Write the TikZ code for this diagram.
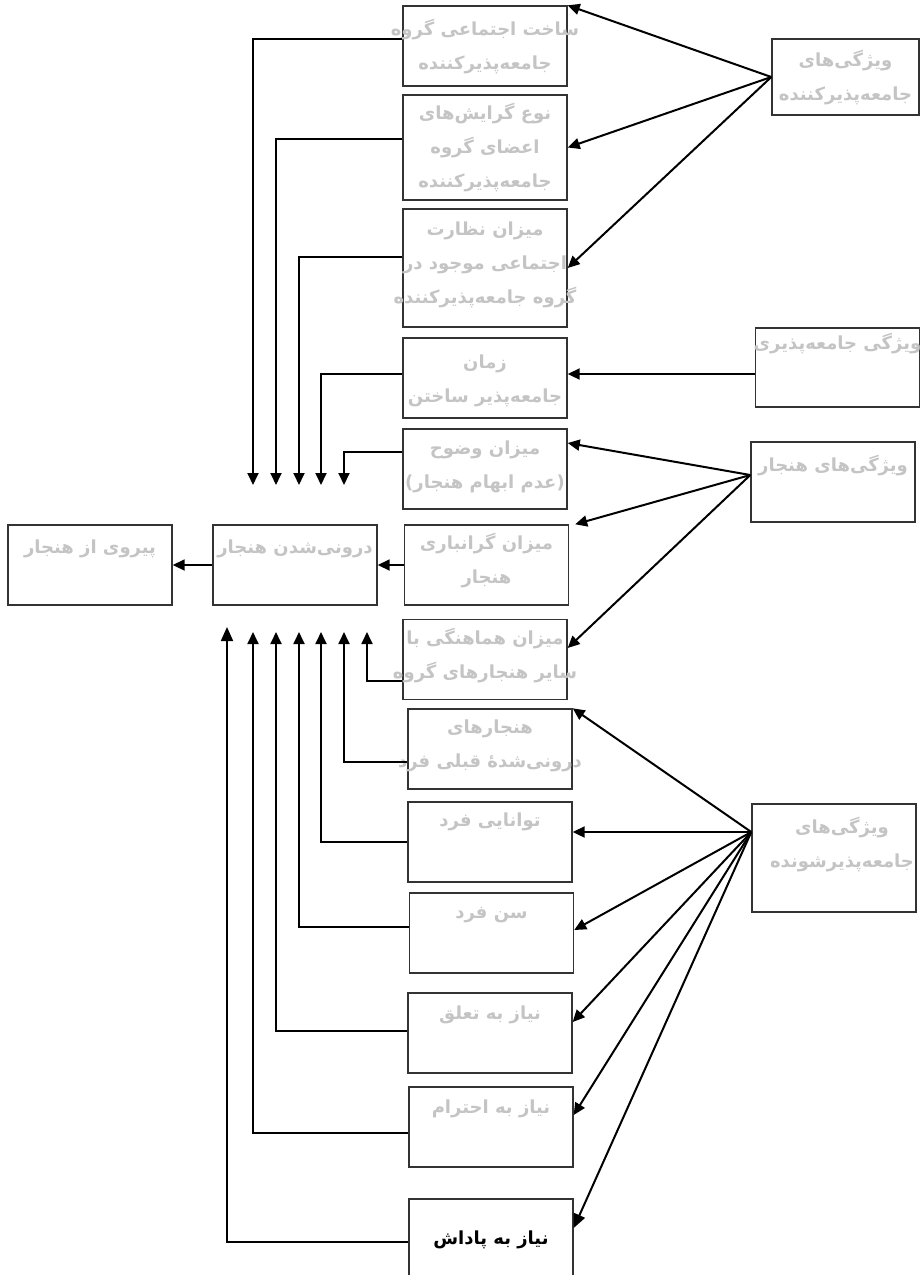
\documentclass[tikz,border=0pt]{standalone}
\usepackage{fontspec}
\newfontfamily\fa[Script=Arabic]{DejaVu Sans}
\TeXXeTstate=1
\usetikzlibrary{positioning, arrows.meta}
\definecolor{boxgray}{RGB}{51,51,51}
\definecolor{txtgray}{RGB}{196,196,196}
\newcommand{\fline}[1]{\beginR #1\endR}

\begin{document}
\begin{tikzpicture}[
    x=0.5pt, y=-0.5pt,
    box/.style={rectangle, draw=boxgray, line width=0.7pt, minimum width=82pt, minimum height=40pt, inner sep=0pt},
    lbl/.style={font=\fa\bfseries\fontsize{9}{17}\selectfont, text=txtgray, align=center, inner sep=0pt},
    link/.style={line width=0.9pt, -{Triangle[length=6pt, width=5.5pt]}},
    fan/.style={line width=1pt, -{Triangle[length=6pt, width=5.5pt]}}
]
    \fill[white] (0,0) rectangle (921,1275);
    \useasboundingbox (0,0) rectangle (921,1275);

    % Middle column
    \node[box] (b1) at (485,46) {};
    \node[box, minimum height=52.5pt] (b2) at (485,147.5) {};
    \node[box, minimum height=59pt] (b3) at (485,268) {};
    \node[box] (b4) at (485,378) {};
    \node[box] (b5) at (485,469) {};
    \node[box] (b6) at (486.5,565) {};
    \node[box] (b7) at (485,659.5) {};
    \node[box] (b8) at (490,749) {};
    \node[box] (b9) at (490,842) {};
    \node[box] (b10) at (491.5,933) {};
    \node[box] (b11) at (490,1033) {};
    \node[box] (b12) at (491,1127) {};
    \node[box, minimum height=43pt] (b13) at (491,1242) {};

    % Left column
    \node[box] (follow) at (90,565) {};
    \node[box] (intern) at (295,565) {};

    % Right column
    \node[box, minimum width=73.5pt, minimum height=38pt] (agent) at (845.5,77) {};
    \node[box, minimum height=39.5pt] (social) at (837.5,367.5) {};
    \node[box] (norm) at (833,482) {};
    \node[box, minimum height=54pt] (learner) at (834,858) {};

    % Texts
    \node[lbl, below=6.5pt of b1.north] (t1) {\fline{ساخت اجتماعی گروه}\\\fline{جامعه^^^^200cپذیرکننده}};
    \node[lbl, below=4pt of b2.north] (t2) {\fline{نوع گرایش^^^^200cهای}\\\fline{اعضای گروه}\\\fline{جامعه^^^^200cپذیرکننده}};
    \node[lbl, below=6.5pt of b3.north] (t3) {\fline{میزان نظارت}\\\fline{اجتماعی موجود در}\\\fline{گروه جامعه^^^^200cپذیرکننده}};
    \node[lbl, below=8.5pt of b4.north] (t4) {\fline{زمان}\\\fline{جامعه^^^^200cپذیر ساختن}};
    \node[lbl, below=6pt of b5.north] (t5) {\fline{میزان وضوح}\\\fline{(عدم ابهام هنجار)}};
    \node[lbl, below=4pt of b6.north] (t6) {\fline{میزان گرانباری}\\\fline{هنجار}};
    \node[lbl, below=4.5pt of b7.north] (t7) {\fline{میزان هماهنگی با}\\\fline{سایر هنجارهای گروه}};
    \node[lbl, below=5.5pt of b8.north] (t8) {\fline{هنجارهای}\\\fline{درونی^^^^200cشده^^^^0654 قبلی فرد}};
    \node[lbl, below=5.5pt of b9.north] (t9) {\fline{توانایی فرد}};
    \node[lbl, below=7pt of b10.north] (t10) {\fline{سن فرد}};
    \node[lbl, below=6.5pt of b11.north] (t11) {\fline{نیاز به تعلق}};
    \node[lbl, below=6.5pt of b12.north] (t12) {\fline{نیاز به احترام}};
    \node[lbl, text=black, below=16pt of b13.north] (t13) {\fline{نیاز به پاداش}};
    \node[lbl, below=7.5pt of follow.north] (tfollow) {\fline{پیروی از هنجار}};
    \node[lbl, below=7.5pt of intern.north] (tintern) {\fline{درونی^^^^200cشدن هنجار}};
    \node[lbl, below=5.5pt of agent.north] (tagent) {\fline{ویژگی^^^^200cهای}\\\fline{جامعه^^^^200cپذیرکننده}};
    \node[lbl, below=2.5pt of social.north] (tsocial) {\fline{ویژگی جامعه^^^^200cپذیری}};
    \node[lbl, below=6.5pt of norm.north] (tnorm) {\fline{ویژگی^^^^200cهای هنجار}};
    \node[lbl, below=6.5pt of learner.north, xshift=4pt] (tlearner) {\fline{ویژگی^^^^200cهای}\\\fline{جامعه^^^^200cپذیرشونده}};

    % Arrow ends above and below the central box
    \coordinate (a1) at (253,485);
    \coordinate (a2) at (276,485);
    \coordinate (a3) at (299,485);
    \coordinate (a4) at (321,485);
    \coordinate (a5) at (344,485);
    \coordinate (c7) at (367,632);
    \coordinate (c8) at (344,632);
    \coordinate (c9) at (321,632);
    \coordinate (c10) at (299,632);
    \coordinate (c11) at (276,632);
    \coordinate (c12) at (253,632);
    \coordinate (c13) at (227,627);

    % Connections into the central box
    \draw[link] ([yshift=3.5pt]b1.west) -| (a1);
    \draw[link] ([yshift=4.25pt]b2.west) -| (a2);
    \draw[link] ([yshift=5.5pt]b3.west) -| (a3);
    \draw[link] ([yshift=2pt]b4.west) -| (a4);
    \draw[link] ([yshift=8.5pt]b5.west) -| (a5);
    \draw[link] (b6.west) -- (intern.east);
    \draw[link] ([yshift=-10.75pt]b7.west) -| (c7);
    \draw[link] ([yshift=-6.5pt]b8.west) -| (c8);
    \draw[link] (b9.west) -| (c9);
    \draw[link] ([yshift=3pt]b10.west) -| (c10);
    \draw[link] ([yshift=1pt]b11.west) -| (c11);
    \draw[link] ([yshift=-3pt]b12.west) -| (c12);
    \draw[link, -{Triangle[length=7pt, width=6pt]}] (b13.west) -| (c13);
    \draw[link] (intern.west) -- (follow.east);

    % Fans from the right column
    \coordinate (normo) at ([yshift=3.5pt]norm.west);
    \coordinate (learnero) at ([yshift=13pt]learner.west);
    \draw[fan] (agent.west) -- (b1.north east);
    \draw[fan] (agent.west) -- (b2.east);
    \draw[fan] (agent.west) -- (b3.east);
    \draw[fan] ([yshift=-3.25pt]social.west) -- ([yshift=2pt]b4.east);
    \draw[fan] (normo) -- ([yshift=13pt]b5.east);
    \draw[fan] (normo) -- ([xshift=3pt]b6.north east);
    \draw[fan] (normo) -- ([yshift=5.75pt]b7.east);
    \draw[fan] (learnero) -- (b8.north east);
    \draw[fan] (learnero) -- ([yshift=5pt]b9.east);
    \draw[fan] (learnero) -- ([yshift=1.5pt]b10.east);
    \draw[fan] (learnero) -- ([yshift=5.5pt]b11.east);
    \draw[fan] (learnero) -- ([yshift=6pt]b12.east);
    \draw[fan, -{Triangle[length=7pt, width=6pt]}] (learnero) -- ([yshift=7pt]b13.east);
\end{tikzpicture}
\end{document}
